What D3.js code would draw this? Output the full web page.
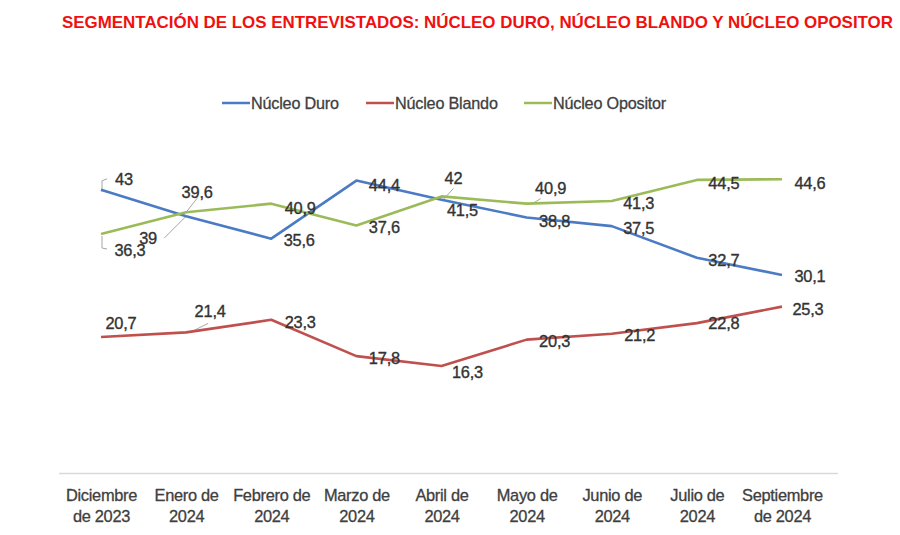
<!DOCTYPE html>
<html><head><meta charset="utf-8">
<script src="https://cdn.jsdelivr.net/npm/d3@7"></script>
<style>body{margin:0;background:#fff}</style>
</head><body>
<svg id="c" width="900" height="535"></svg>
<script>
const categories = [["Diciembre","de 2023"],["Enero de","2024"],["Febrero de","2024"],["Marzo de","2024"],["Abril de","2024"],["Mayo de","2024"],["Junio de","2024"],["Julio de","2024"],["Septiembre","de 2024"]];
const nucleoDuro = [43, 39, 35.6, 44.4, 41.5, 38.8, 37.5, 32.7, 30.1];
const nucleoBlando = [20.7, 21.4, 23.3, 17.8, 16.3, 20.3, 21.2, 22.8, 25.3];
const nucleoOpositor = [36.3, 39.6, 40.9, 37.6, 42, 40.9, 41.3, 44.5, 44.6];
const seriesNames = ["Núcleo Duro", "Núcleo Blando", "Núcleo Opositor"];
const title = "SEGMENTACIÓN DE LOS ENTREVISTADOS: NÚCLEO DURO, NÚCLEO BLANDO Y NÚCLEO OPOSITOR";

// label offsets (layout only)
const offDuro = [[23,-11],[-38,22],[28,1],[28,4],[21,10],[28,3],[27,2],[27,2],[28,1]];
const offBlando = [[20,-14],[24,-21],[29,2],[28,2],[26,6],[28,1],[28,1],[27,0],[26,2]];
const offOpositor = [[29,16],[11,-20],[29,4],[28,2],[12,-18],[24,-16],[27,2],[27,3],[28,4]];

const colors = ["#4a7bc4", "#c0504d", "#9bbb59"];
const FONT = "Liberation Sans, Arial, Helvetica, sans-serif";
const svg = d3.select("#c");
const fmt = v => String(v).replace(".", ",");

const x = d3.scalePoint().domain(d3.range(categories.length)).range([101, 782]);
const y = d3.scaleLinear().domain([0, 50]).range([473.6, 143.6]);

// title
svg.append("text").attr("x", 62).attr("y", 28).text(title)
  .attr("font-family", FONT).attr("font-weight", "bold")
  .attr("font-size", 17).attr("fill", "#f01010")
  .attr("textLength", 831).attr("lengthAdjust", "spacingAndGlyphs");

// legend
const legX = [222, 366, 524];
seriesNames.forEach((n, i) => {
  const g = svg.append("g").attr("transform", `translate(${legX[i]},103)`);
  g.append("line").attr("x1", 0).attr("x2", 28).attr("stroke", colors[i]).attr("stroke-width", 2.5);
  g.append("text").attr("x", 29).attr("y", 6).text(n)
    .attr("font-family", FONT).attr("font-size", 16.2).attr("fill", "#404040")
    .attr("stroke", "#404040").attr("stroke-width", 0.3).attr("letter-spacing", -0.2);
});

// axis
const axisG = svg.append("g").attr("transform", "translate(0,473.6)");
const ax = d3.axisBottom(x).tickSize(0).tickFormat(() => "");
axisG.call(ax);
axisG.select(".domain").remove();
axisG.append("line").attr("x1", 59).attr("x2", 838).attr("stroke", "#d9d9d9").attr("stroke-width", 1.5);
axisG.selectAll(".tick").each(function(d) {
  const t = d3.select(this).append("text").attr("text-anchor", "middle")
    .attr("font-family", FONT).attr("font-size", 16.4).attr("fill", "#404040")
    .attr("stroke", "#404040").attr("stroke-width", 0.3).attr("letter-spacing", -0.3);
  t.append("tspan").attr("x", 0).attr("y", 27).text(categories[d][0]);
  t.append("tspan").attr("x", 0).attr("y", 48).text(categories[d][1]);
});

// leader lines
const leader = (pts) => svg.append("path").attr("d", d3.line()(pts)).attr("fill", "none").attr("stroke", "#a6a6a6").attr("stroke-width", 1);
leader([[x(0)+1, y(nucleoDuro[0])+2], [x(0)+1, y(nucleoDuro[0])-9], [x(0)+6, y(nucleoDuro[0])-11]]);
leader([[x(0)+1, y(nucleoOpositor[0])+2], [x(0)+1, y(nucleoOpositor[0])+14], [x(0)+6, y(nucleoOpositor[0])+15]]);
leader([[x(1)-22, y(nucleoDuro[1])+22], [x(1), y(nucleoDuro[1])]]);
leader([[x(1), y(nucleoOpositor[1])], [x(1)+11, y(nucleoOpositor[1])-14]]);
leader([[x(4)+2, y(nucleoOpositor[4])+3], [x(4)+12, y(nucleoOpositor[4])-8]]);
leader([[x(5)+4, y(nucleoOpositor[5])+1], [x(5)+14, y(nucleoOpositor[5])-5]]);
leader([[x(1)+4, y(nucleoBlando[1])], [x(1)+22, y(nucleoBlando[1])-9]]);

// lines
const series = [nucleoDuro, nucleoBlando, nucleoOpositor];
const line = d3.line().x((d, i) => x(i)).y(d => y(d));
series.forEach((s, i) => {
  svg.append("path").datum(s).attr("d", line).attr("fill", "none")
    .attr("stroke", colors[i]).attr("stroke-width", 2.6).attr("stroke-linejoin", "round");
});

// labels
const offs = [offDuro, offBlando, offOpositor];
series.forEach((s, si) => {
  svg.append("g").selectAll("text").data(s).join("text")
    .attr("x", (d, i) => x(i) + offs[si][i][0])
    .attr("y", (d, i) => y(d) + offs[si][i][1] + 6)
    .attr("text-anchor", "middle")
    .attr("font-family", FONT).attr("font-size", 16.4)
    .attr("fill", "#333").attr("stroke", "#333").attr("stroke-width", 0.35)
    .attr("letter-spacing", -0.2)
    .text(d => fmt(d));
});
</script>
</body></html>
